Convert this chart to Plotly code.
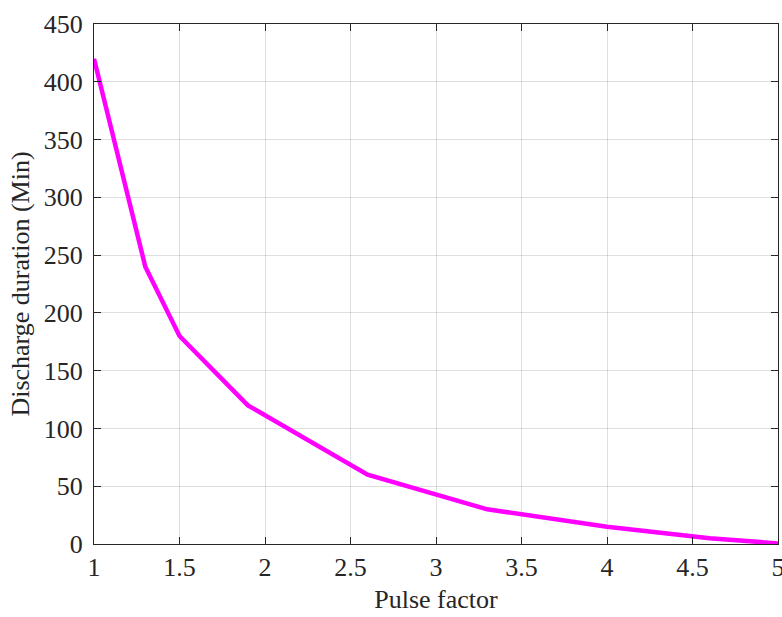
import plotly.graph_objects as go

pulse_factor = [1, 1.3, 1.5, 1.9, 2.6, 3.3, 4, 4.6, 5]
discharge_min = [420, 240, 180, 120, 60, 30, 15, 5, 0.5]

x_ticks = [1, 1.5, 2, 2.5, 3, 3.5, 4, 4.5, 5]
x_tick_text = ["1", "1.5", "2", "2.5", "3", "3.5", "4", "4.5", "5"]
y_ticks = [0, 50, 100, 150, 200, 250, 300, 350, 400, 450]

axis_color = "#262626"
grid_color = "rgba(38,38,38,0.15)"
font_family = "Liberation Serif"
fsize = 26

fig = go.Figure()
fig.add_trace(go.Scatter(
    x=pulse_factor, y=discharge_min, mode="lines",
    line=dict(color="#ff00ff", width=4.5),
    showlegend=False,
))

common = dict(
    showline=True, linecolor=axis_color, linewidth=1.2, mirror="ticks",
    ticks="inside", ticklen=7, tickwidth=1.2, tickcolor=axis_color,
    showgrid=True, gridcolor=grid_color, gridwidth=1,
    zeroline=False, automargin=False, ticklabeloverflow="allow",
    tickfont=dict(family=font_family, size=fsize, color=axis_color),
)

fig.update_xaxes(
    range=[1, 5], tickvals=x_ticks, ticktext=x_tick_text,
    title=dict(text="Pulse factor", font=dict(family=font_family, size=fsize, color=axis_color), standoff=8),
    **common,
)
fig.update_yaxes(
    range=[0, 450], tickvals=y_ticks, ticklabelstandoff=5,
    title=dict(text="Discharge duration (Min)", font=dict(family=font_family, size=fsize, color=axis_color), standoff=6),
    **common,
)

fig.update_layout(
    width=782, height=617,
    margin=dict(l=94, r=4, t=24, b=73),
    paper_bgcolor="white", plot_bgcolor="white",
    font=dict(family=font_family, color=axis_color),
)

fig.write_html(
    "out.html",
    config={"displayModeBar": False},
    post_script="document.body.style.margin='0';document.body.style.overflow='hidden';",
)
